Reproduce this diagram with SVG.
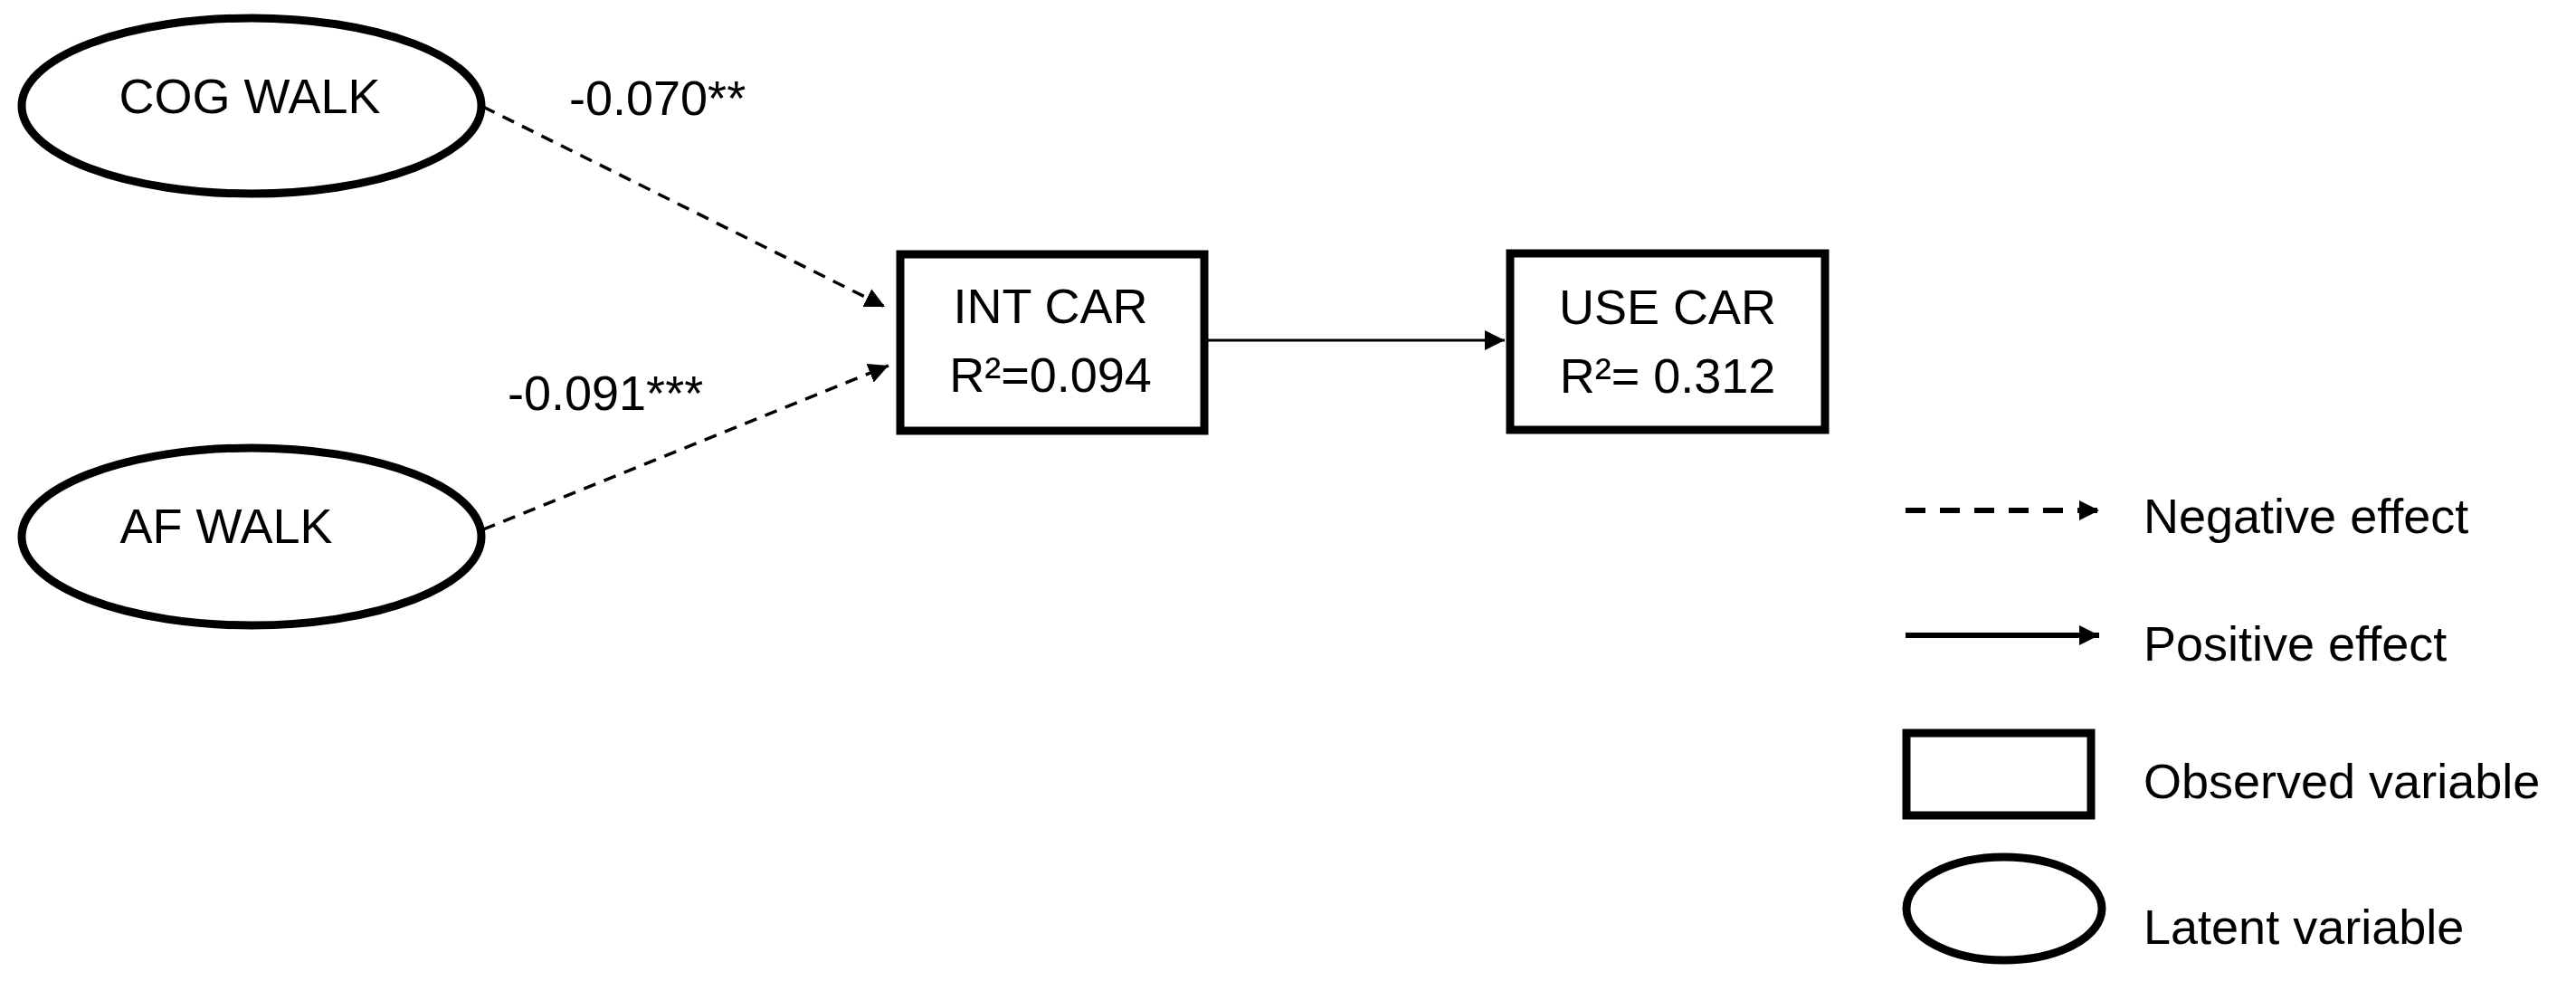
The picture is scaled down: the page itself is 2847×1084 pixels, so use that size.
<svg xmlns="http://www.w3.org/2000/svg" width="2847" height="1084" viewBox="0 0 2847 1084">
<style>
text{font-family:"Liberation Sans Narrow","Liberation Sans",Arial,sans-serif;font-size:54px;fill:#000}
.c{text-anchor:middle}
.node{fill:#fff;stroke:#000;stroke-width:9}
.dash{stroke:#000;stroke-width:3.5;stroke-dasharray:14 10;fill:none}
.solid{stroke:#000;stroke-width:3;fill:none}
</style>
<defs>
<marker id="ah" viewBox="0 0 10 10" refX="10" refY="5" markerWidth="8" markerHeight="8" markerUnits="userSpaceOnUse" orient="auto" style="overflow:visible">
<path d="M0,0 L10,5 L0,10 z" fill="#000" transform="scale(2.4) translate(-6,-3)"/>
</marker>
<marker id="ah2" viewBox="0 0 10 10" refX="10" refY="5" markerWidth="22" markerHeight="22" markerUnits="userSpaceOnUse" orient="auto">
<path d="M0,0 L10,5 L0,10 z" fill="#000"/>
</marker>
</defs>
<g id="connectors">
<line class="dash" x1="534" y1="118" x2="978" y2="339" marker-end="url(#ah2)"/>
<line class="dash" x1="534" y1="585" x2="982" y2="404" marker-end="url(#ah2)"/>
<line class="solid" x1="1335" y1="376" x2="1663" y2="376" marker-end="url(#ah2)"/>
</g>
<g id="cog-walk">
<ellipse class="node" cx="278" cy="117" rx="254" ry="97"/>
<text class="c" x="276" y="125">COG WALK</text>
</g>
<g id="af-walk">
<ellipse class="node" cx="278" cy="593" rx="254" ry="98"/>
<text class="c" x="250" y="600">AF WALK</text>
</g>
<g id="int-car">
<rect class="node" x="995" y="281" width="336" height="195"/>
<text class="c" x="1161" y="357">INT CAR</text>
<text class="c" x="1161" y="433">R²=0.094</text>
</g>
<g id="use-car">
<rect class="node" x="1669" y="280" width="348" height="195"/>
<text class="c" x="1843" y="358">USE CAR</text>
<text class="c" x="1843" y="434">R²= 0.312</text>
</g>
<g id="labels">
<text x="629" y="127">-0.070**</text>
<text x="561" y="453">-0.091***</text>
</g>
<g id="legend">
<line x1="2106" y1="564" x2="2320" y2="564" stroke="#000" stroke-width="6" stroke-dasharray="22 16" marker-end="url(#ah2)"/>
<text x="2369" y="589">Negative effect</text>
<line x1="2106" y1="702" x2="2320" y2="702" stroke="#000" stroke-width="6" marker-end="url(#ah2)"/>
<text x="2369" y="730">Positive effect</text>
<rect class="node" x="2107" y="810" width="204" height="91"/>
<text x="2369" y="882">Observed variable</text>
<ellipse class="node" cx="2215" cy="1004" rx="108" ry="57"/>
<text x="2369" y="1043">Latent variable</text>
</g>
</svg>
